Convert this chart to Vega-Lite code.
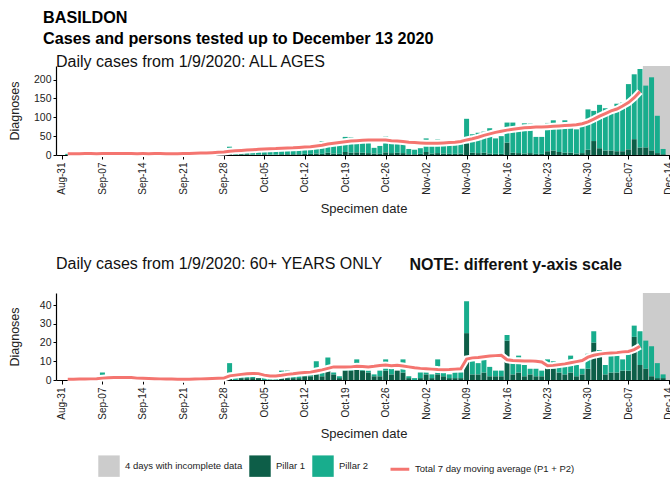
{
  "$schema": "https://vega.github.io/schema/vega-lite/v6.json",
  "background": "white",
  "padding": {"left": 8, "top": 10, "right": 0, "bottom": 0},
  "title": {
    "text": ["BASILDON", "Cases and persons tested up to December 13 2020"],
    "anchor": "start", "frame": "bounds", "dx": 35,
    "font": "Liberation Sans", "fontSize": 16.2, "fontWeight": "bold",
    "lineHeight": 20.5, "color": "#000000", "offset": 7
  },
  "datasets": {
    "inc": [{"start": "2020-12-09T12:00:00Z", "end": "2020-12-15T12:00:00Z"}],
    "all": [
      {"d":"2020-09-01","Pillar 1":0,"Pillar 2":3,"ma":3.5},
      {"d":"2020-09-02","Pillar 1":0,"Pillar 2":5,"ma":3.6},
      {"d":"2020-09-03","Pillar 1":0,"Pillar 2":2,"ma":3.6},
      {"d":"2020-09-04","Pillar 1":0,"Pillar 2":4,"ma":3.8},
      {"d":"2020-09-05","Pillar 1":0,"Pillar 2":3,"ma":3.7},
      {"d":"2020-09-06","Pillar 1":1,"Pillar 2":1,"ma":3.6},
      {"d":"2020-09-07","Pillar 1":1,"Pillar 2":5,"ma":3.8},
      {"d":"2020-09-08","Pillar 1":0,"Pillar 2":4,"ma":3.9},
      {"d":"2020-09-09","Pillar 1":0,"Pillar 2":3,"ma":3.7},
      {"d":"2020-09-10","Pillar 1":1,"Pillar 2":4,"ma":3.8},
      {"d":"2020-09-11","Pillar 1":1,"Pillar 2":3,"ma":3.9},
      {"d":"2020-09-12","Pillar 1":0,"Pillar 2":2,"ma":3.7},
      {"d":"2020-09-13","Pillar 1":0,"Pillar 2":3,"ma":3.6},
      {"d":"2020-09-14","Pillar 1":0,"Pillar 2":4,"ma":3.7},
      {"d":"2020-09-15","Pillar 1":1,"Pillar 2":2,"ma":3.6},
      {"d":"2020-09-16","Pillar 1":0,"Pillar 2":5,"ma":3.8},
      {"d":"2020-09-17","Pillar 1":0,"Pillar 2":4,"ma":3.7},
      {"d":"2020-09-18","Pillar 1":1,"Pillar 2":1,"ma":3.5},
      {"d":"2020-09-19","Pillar 1":0,"Pillar 2":3,"ma":3.6},
      {"d":"2020-09-20","Pillar 1":0,"Pillar 2":4,"ma":3.6},
      {"d":"2020-09-21","Pillar 1":0,"Pillar 2":5,"ma":4.0},
      {"d":"2020-09-22","Pillar 1":1,"Pillar 2":5,"ma":4.3},
      {"d":"2020-09-23","Pillar 1":0,"Pillar 2":4,"ma":4.6},
      {"d":"2020-09-24","Pillar 1":1,"Pillar 2":7,"ma":5.0},
      {"d":"2020-09-25","Pillar 1":0,"Pillar 2":7,"ma":5.6},
      {"d":"2020-09-26","Pillar 1":1,"Pillar 2":5,"ma":6.2},
      {"d":"2020-09-27","Pillar 1":0,"Pillar 2":9,"ma":7.0},
      {"d":"2020-09-28","Pillar 1":1,"Pillar 2":9,"ma":8.0},
      {"d":"2020-09-29","Pillar 1":4,"Pillar 2":18,"ma":9.8},
      {"d":"2020-09-30","Pillar 1":1,"Pillar 2":11,"ma":11.0},
      {"d":"2020-10-01","Pillar 1":2,"Pillar 2":12,"ma":12},
      {"d":"2020-10-02","Pillar 1":2,"Pillar 2":10,"ma":13},
      {"d":"2020-10-03","Pillar 1":1,"Pillar 2":14,"ma":14},
      {"d":"2020-10-04","Pillar 1":1,"Pillar 2":12,"ma":15},
      {"d":"2020-10-05","Pillar 1":2,"Pillar 2":16,"ma":16},
      {"d":"2020-10-06","Pillar 1":1,"Pillar 2":19,"ma":16.5},
      {"d":"2020-10-07","Pillar 1":1,"Pillar 2":16,"ma":17},
      {"d":"2020-10-08","Pillar 1":2,"Pillar 2":19,"ma":18},
      {"d":"2020-10-09","Pillar 1":2,"Pillar 2":17,"ma":18.5},
      {"d":"2020-10-10","Pillar 1":2,"Pillar 2":16,"ma":19},
      {"d":"2020-10-11","Pillar 1":2,"Pillar 2":18,"ma":20},
      {"d":"2020-10-12","Pillar 1":3,"Pillar 2":21,"ma":21},
      {"d":"2020-10-13","Pillar 1":3,"Pillar 2":23,"ma":22},
      {"d":"2020-10-14","Pillar 1":4,"Pillar 2":21,"ma":24},
      {"d":"2020-10-15","Pillar 1":3,"Pillar 2":33,"ma":26},
      {"d":"2020-10-16","Pillar 1":6,"Pillar 2":24,"ma":29},
      {"d":"2020-10-17","Pillar 1":4,"Pillar 2":29,"ma":31},
      {"d":"2020-10-18","Pillar 1":3,"Pillar 2":26,"ma":33},
      {"d":"2020-10-19","Pillar 1":8,"Pillar 2":40,"ma":35},
      {"d":"2020-10-20","Pillar 1":6,"Pillar 2":41,"ma":37},
      {"d":"2020-10-21","Pillar 1":7,"Pillar 2":27,"ma":38},
      {"d":"2020-10-22","Pillar 1":6,"Pillar 2":30,"ma":39},
      {"d":"2020-10-23","Pillar 1":5,"Pillar 2":33,"ma":39.5},
      {"d":"2020-10-24","Pillar 1":4,"Pillar 2":15,"ma":40},
      {"d":"2020-10-25","Pillar 1":3,"Pillar 2":21,"ma":40},
      {"d":"2020-10-26","Pillar 1":7,"Pillar 2":42,"ma":39.5},
      {"d":"2020-10-27","Pillar 1":5,"Pillar 2":31,"ma":38},
      {"d":"2020-10-28","Pillar 1":6,"Pillar 2":31,"ma":37},
      {"d":"2020-10-29","Pillar 1":5,"Pillar 2":31,"ma":36},
      {"d":"2020-10-30","Pillar 1":2,"Pillar 2":14,"ma":34},
      {"d":"2020-10-31","Pillar 1":2,"Pillar 2":12,"ma":33},
      {"d":"2020-11-01","Pillar 1":3,"Pillar 2":15,"ma":32},
      {"d":"2020-11-02","Pillar 1":8,"Pillar 2":36,"ma":31},
      {"d":"2020-11-03","Pillar 1":4,"Pillar 2":26,"ma":31},
      {"d":"2020-11-04","Pillar 1":5,"Pillar 2":36,"ma":31},
      {"d":"2020-11-05","Pillar 1":4,"Pillar 2":28,"ma":32},
      {"d":"2020-11-06","Pillar 1":3,"Pillar 2":30,"ma":33},
      {"d":"2020-11-07","Pillar 1":3,"Pillar 2":27,"ma":34},
      {"d":"2020-11-08","Pillar 1":4,"Pillar 2":25,"ma":36},
      {"d":"2020-11-09","Pillar 1":30,"Pillar 2":66,"ma":40},
      {"d":"2020-11-10","Pillar 1":6,"Pillar 2":49,"ma":43},
      {"d":"2020-11-11","Pillar 1":5,"Pillar 2":54,"ma":47},
      {"d":"2020-11-12","Pillar 1":6,"Pillar 2":56,"ma":52},
      {"d":"2020-11-13","Pillar 1":4,"Pillar 2":67,"ma":56},
      {"d":"2020-11-14","Pillar 1":3,"Pillar 2":41,"ma":60},
      {"d":"2020-11-15","Pillar 1":3,"Pillar 2":47,"ma":63},
      {"d":"2020-11-16","Pillar 1":33,"Pillar 2":53,"ma":66},
      {"d":"2020-11-17","Pillar 1":6,"Pillar 2":80,"ma":68},
      {"d":"2020-11-18","Pillar 1":5,"Pillar 2":59,"ma":70},
      {"d":"2020-11-19","Pillar 1":4,"Pillar 2":80,"ma":72},
      {"d":"2020-11-20","Pillar 1":5,"Pillar 2":78,"ma":73},
      {"d":"2020-11-21","Pillar 1":3,"Pillar 2":45,"ma":74},
      {"d":"2020-11-22","Pillar 1":3,"Pillar 2":45,"ma":74},
      {"d":"2020-11-23","Pillar 1":10,"Pillar 2":75,"ma":75},
      {"d":"2020-11-24","Pillar 1":12,"Pillar 2":80,"ma":76},
      {"d":"2020-11-25","Pillar 1":8,"Pillar 2":72,"ma":77},
      {"d":"2020-11-26","Pillar 1":6,"Pillar 2":86,"ma":78},
      {"d":"2020-11-27","Pillar 1":6,"Pillar 2":72,"ma":79},
      {"d":"2020-11-28","Pillar 1":4,"Pillar 2":64,"ma":80},
      {"d":"2020-11-29","Pillar 1":5,"Pillar 2":72,"ma":83},
      {"d":"2020-11-30","Pillar 1":14,"Pillar 2":107,"ma":88},
      {"d":"2020-12-01","Pillar 1":37,"Pillar 2":80,"ma":95},
      {"d":"2020-12-02","Pillar 1":18,"Pillar 2":115,"ma":103},
      {"d":"2020-12-03","Pillar 1":12,"Pillar 2":112,"ma":110},
      {"d":"2020-12-04","Pillar 1":12,"Pillar 2":105,"ma":117},
      {"d":"2020-12-05","Pillar 1":10,"Pillar 2":126,"ma":122},
      {"d":"2020-12-06","Pillar 1":10,"Pillar 2":129,"ma":130},
      {"d":"2020-12-07","Pillar 1":15,"Pillar 2":173,"ma":139},
      {"d":"2020-12-08","Pillar 1":42,"Pillar 2":172,"ma":152},
      {"d":"2020-12-09","Pillar 1":20,"Pillar 2":208,"ma":168},
      {"d":"2020-12-10","Pillar 1":20,"Pillar 2":164},
      {"d":"2020-12-11","Pillar 1":12,"Pillar 2":194},
      {"d":"2020-12-12","Pillar 1":5,"Pillar 2":99},
      {"d":"2020-12-13","Pillar 1":2,"Pillar 2":14}
    ],
    "old": [
      {"d":"2020-09-01","Pillar 1":0,"Pillar 2":0,"ma":0.4},
      {"d":"2020-09-02","Pillar 1":0,"Pillar 2":0,"ma":0.4},
      {"d":"2020-09-03","Pillar 1":0,"Pillar 2":1,"ma":0.5},
      {"d":"2020-09-04","Pillar 1":0,"Pillar 2":0,"ma":0.5},
      {"d":"2020-09-05","Pillar 1":0,"Pillar 2":0,"ma":0.6},
      {"d":"2020-09-06","Pillar 1":0,"Pillar 2":1,"ma":0.7},
      {"d":"2020-09-07","Pillar 1":0,"Pillar 2":4,"ma":1.0},
      {"d":"2020-09-08","Pillar 1":0,"Pillar 2":0,"ma":1.2},
      {"d":"2020-09-09","Pillar 1":0,"Pillar 2":1,"ma":1.3},
      {"d":"2020-09-10","Pillar 1":1,"Pillar 2":1,"ma":1.4},
      {"d":"2020-09-11","Pillar 1":0,"Pillar 2":1,"ma":1.4},
      {"d":"2020-09-12","Pillar 1":0,"Pillar 2":0,"ma":1.3},
      {"d":"2020-09-13","Pillar 1":0,"Pillar 2":0,"ma":1.0},
      {"d":"2020-09-14","Pillar 1":0,"Pillar 2":0,"ma":0.9},
      {"d":"2020-09-15","Pillar 1":0,"Pillar 2":1,"ma":0.8},
      {"d":"2020-09-16","Pillar 1":0,"Pillar 2":0,"ma":0.7},
      {"d":"2020-09-17","Pillar 1":0,"Pillar 2":0,"ma":0.6},
      {"d":"2020-09-18","Pillar 1":0,"Pillar 2":1,"ma":0.5},
      {"d":"2020-09-19","Pillar 1":0,"Pillar 2":0,"ma":0.5},
      {"d":"2020-09-20","Pillar 1":0,"Pillar 2":0,"ma":0.4},
      {"d":"2020-09-21","Pillar 1":0,"Pillar 2":0,"ma":0.4},
      {"d":"2020-09-22","Pillar 1":0,"Pillar 2":1,"ma":0.4},
      {"d":"2020-09-23","Pillar 1":0,"Pillar 2":0,"ma":0.5},
      {"d":"2020-09-24","Pillar 1":0,"Pillar 2":1,"ma":0.6},
      {"d":"2020-09-25","Pillar 1":0,"Pillar 2":0,"ma":0.7},
      {"d":"2020-09-26","Pillar 1":0,"Pillar 2":1,"ma":0.8},
      {"d":"2020-09-27","Pillar 1":0,"Pillar 2":0,"ma":0.9},
      {"d":"2020-09-28","Pillar 1":0,"Pillar 2":1,"ma":1.0},
      {"d":"2020-09-29","Pillar 1":4,"Pillar 2":5,"ma":2.2},
      {"d":"2020-09-30","Pillar 1":0,"Pillar 2":1,"ma":2.6},
      {"d":"2020-10-01","Pillar 1":1,"Pillar 2":3,"ma":3.0},
      {"d":"2020-10-02","Pillar 1":1,"Pillar 2":2,"ma":3.3},
      {"d":"2020-10-03","Pillar 1":1,"Pillar 2":1,"ma":3.5},
      {"d":"2020-10-04","Pillar 1":1,"Pillar 2":0,"ma":3.4},
      {"d":"2020-10-05","Pillar 1":0,"Pillar 2":2,"ma":2.6},
      {"d":"2020-10-06","Pillar 1":0,"Pillar 2":1,"ma":2.2},
      {"d":"2020-10-07","Pillar 1":0,"Pillar 2":1,"ma":2.2},
      {"d":"2020-10-08","Pillar 1":1,"Pillar 2":4,"ma":2.5},
      {"d":"2020-10-09","Pillar 1":1,"Pillar 2":4,"ma":3.0},
      {"d":"2020-10-10","Pillar 1":1,"Pillar 2":2,"ma":3.3},
      {"d":"2020-10-11","Pillar 1":1,"Pillar 2":1,"ma":3.7},
      {"d":"2020-10-12","Pillar 1":2,"Pillar 2":1,"ma":4.0},
      {"d":"2020-10-13","Pillar 1":2,"Pillar 2":1,"ma":4.2},
      {"d":"2020-10-14","Pillar 1":3,"Pillar 2":7,"ma":4.8},
      {"d":"2020-10-15","Pillar 1":2,"Pillar 2":2,"ma":5.4},
      {"d":"2020-10-16","Pillar 1":5,"Pillar 2":7,"ma":6.2},
      {"d":"2020-10-17","Pillar 1":3,"Pillar 2":1,"ma":7.0},
      {"d":"2020-10-18","Pillar 1":1,"Pillar 2":1,"ma":7.0},
      {"d":"2020-10-19","Pillar 1":5,"Pillar 2":3,"ma":6.9},
      {"d":"2020-10-20","Pillar 1":5,"Pillar 2":1,"ma":7.0},
      {"d":"2020-10-21","Pillar 1":6,"Pillar 2":5,"ma":7.3},
      {"d":"2020-10-22","Pillar 1":5,"Pillar 2":1,"ma":7.2},
      {"d":"2020-10-23","Pillar 1":4,"Pillar 2":1,"ma":7.0},
      {"d":"2020-10-24","Pillar 1":2,"Pillar 2":1,"ma":7.3},
      {"d":"2020-10-25","Pillar 1":2,"Pillar 2":3,"ma":7.7},
      {"d":"2020-10-26","Pillar 1":5,"Pillar 2":6,"ma":8.0},
      {"d":"2020-10-27","Pillar 1":3,"Pillar 2":3,"ma":7.6},
      {"d":"2020-10-28","Pillar 1":5,"Pillar 2":0,"ma":7.8},
      {"d":"2020-10-29","Pillar 1":4,"Pillar 2":7,"ma":7.5},
      {"d":"2020-10-30","Pillar 1":1,"Pillar 2":1,"ma":7.0},
      {"d":"2020-10-31","Pillar 1":0,"Pillar 2":1,"ma":6.5},
      {"d":"2020-11-01","Pillar 1":1,"Pillar 2":3,"ma":6.2},
      {"d":"2020-11-02","Pillar 1":3,"Pillar 2":1,"ma":6.0},
      {"d":"2020-11-03","Pillar 1":1,"Pillar 2":2,"ma":5.8},
      {"d":"2020-11-04","Pillar 1":3,"Pillar 2":8,"ma":5.6},
      {"d":"2020-11-05","Pillar 1":2,"Pillar 2":4,"ma":5.5},
      {"d":"2020-11-06","Pillar 1":1,"Pillar 2":2,"ma":5.6},
      {"d":"2020-11-07","Pillar 1":1,"Pillar 2":3,"ma":5.8},
      {"d":"2020-11-08","Pillar 1":1,"Pillar 2":3,"ma":6.0},
      {"d":"2020-11-09","Pillar 1":25,"Pillar 2":17,"ma":11.2},
      {"d":"2020-11-10","Pillar 1":3,"Pillar 2":7,"ma":11.8},
      {"d":"2020-11-11","Pillar 1":3,"Pillar 2":6,"ma":12.0},
      {"d":"2020-11-12","Pillar 1":4,"Pillar 2":7,"ma":12.4},
      {"d":"2020-11-13","Pillar 1":2,"Pillar 2":5,"ma":12.8},
      {"d":"2020-11-14","Pillar 1":2,"Pillar 2":3,"ma":13.0},
      {"d":"2020-11-15","Pillar 1":2,"Pillar 2":3,"ma":13.2},
      {"d":"2020-11-16","Pillar 1":21,"Pillar 2":3,"ma":10.8},
      {"d":"2020-11-17","Pillar 1":3,"Pillar 2":6,"ma":10.4},
      {"d":"2020-11-18","Pillar 1":4,"Pillar 2":9,"ma":10.3},
      {"d":"2020-11-19","Pillar 1":2,"Pillar 2":6,"ma":10.2},
      {"d":"2020-11-20","Pillar 1":3,"Pillar 2":3,"ma":10.2},
      {"d":"2020-11-21","Pillar 1":2,"Pillar 2":4,"ma":10.0},
      {"d":"2020-11-22","Pillar 1":2,"Pillar 2":3,"ma":9.6},
      {"d":"2020-11-23","Pillar 1":6,"Pillar 2":5,"ma":7.6},
      {"d":"2020-11-24","Pillar 1":6,"Pillar 2":4,"ma":7.8},
      {"d":"2020-11-25","Pillar 1":4,"Pillar 2":3,"ma":8.2},
      {"d":"2020-11-26","Pillar 1":3,"Pillar 2":6,"ma":8.6},
      {"d":"2020-11-27","Pillar 1":4,"Pillar 2":9,"ma":9.2},
      {"d":"2020-11-28","Pillar 1":2,"Pillar 2":6,"ma":9.8},
      {"d":"2020-11-29","Pillar 1":3,"Pillar 2":3,"ma":10.4},
      {"d":"2020-11-30","Pillar 1":6,"Pillar 2":8,"ma":12.2},
      {"d":"2020-12-01","Pillar 1":20,"Pillar 2":6,"ma":13.2},
      {"d":"2020-12-02","Pillar 1":14,"Pillar 2":2,"ma":13.8},
      {"d":"2020-12-03","Pillar 1":3,"Pillar 2":5,"ma":14.2},
      {"d":"2020-12-04","Pillar 1":4,"Pillar 2":9,"ma":14.4},
      {"d":"2020-12-05","Pillar 1":4,"Pillar 2":9,"ma":14.6},
      {"d":"2020-12-06","Pillar 1":5,"Pillar 2":6,"ma":15.0},
      {"d":"2020-12-07","Pillar 1":5,"Pillar 2":10,"ma":15.2},
      {"d":"2020-12-08","Pillar 1":23,"Pillar 2":6,"ma":16.2},
      {"d":"2020-12-09","Pillar 1":8,"Pillar 2":18,"ma":18.0},
      {"d":"2020-12-10","Pillar 1":6,"Pillar 2":15},
      {"d":"2020-12-11","Pillar 1":2,"Pillar 2":16},
      {"d":"2020-12-12","Pillar 1":1,"Pillar 2":8},
      {"d":"2020-12-13","Pillar 1":1,"Pillar 2":2}
    ]
  },
  "spacing": 40,
  "resolve": {"scale": {"color": "independent", "x": "independent", "y": "independent"}, "legend": {"color": "independent"}},
  "vconcat": [
    {
      "width": 625, "height": 89,
      "title": {"text": "Daily cases from 1/9/2020: ALL AGES", "anchor": "start", "frame": "group", "fontSize": 16, "fontWeight": "normal", "font": "Liberation Sans", "color": "#111111", "offset": -4},
      "layer": [
        {
          "data": {"name": "inc"},
          "mark": {"type": "rect", "clip": true},
          "encoding": {
            "x": {"field": "start", "type": "temporal",
              "scale": {"type": "utc", "domain": ["2020-08-30T20:00:00Z", "2020-12-15T05:30:00Z"]},
              "axis": {"title": "Specimen date", "values": [
                {"year":2020,"month":8,"date":31,"utc":true},{"year":2020,"month":9,"date":7,"utc":true},{"year":2020,"month":9,"date":14,"utc":true},{"year":2020,"month":9,"date":21,"utc":true},{"year":2020,"month":9,"date":28,"utc":true},{"year":2020,"month":10,"date":5,"utc":true},{"year":2020,"month":10,"date":12,"utc":true},{"year":2020,"month":10,"date":19,"utc":true},{"year":2020,"month":10,"date":26,"utc":true},{"year":2020,"month":11,"date":2,"utc":true},{"year":2020,"month":11,"date":9,"utc":true},{"year":2020,"month":11,"date":16,"utc":true},{"year":2020,"month":11,"date":23,"utc":true},{"year":2020,"month":11,"date":30,"utc":true},{"year":2020,"month":12,"date":7,"utc":true},{"year":2020,"month":12,"date":14,"utc":true}],
                "labelExpr": "utcFormat(datum.value, '%b-%d')", "labelAngle": 270, "labelFontSize": 10, "tickSize": 4, "labelPadding": 3, "titleFontSize": 13, "titlePadding": 8, "labelOverlap": false, "labelFlush": false, "titleX": 307.5}},
            "x2": {"field": "end"},
            "color": {"datum": "4 days with incomplete data", "scale": {"domain": ["4 days with incomplete data", "Pillar 1", "Pillar 2", "Total 7 day moving average (P1 + P2)"], "range": ["#cccccc", "#0d5e48", "#18ad8d", "#f47570"]}, "legend": null}
          }
        },
        {
          "data": {"name": "all"},
          "transform": [{"fold": ["Pillar 1", "Pillar 2"], "as": ["key", "n"]}],
          "mark": {"type": "bar", "width": 5},
          "encoding": {
            "x": {"field": "d", "type": "temporal", "axis": {"title": "Specimen date", "values": [
                {"year":2020,"month":8,"date":31,"utc":true},{"year":2020,"month":9,"date":7,"utc":true},{"year":2020,"month":9,"date":14,"utc":true},{"year":2020,"month":9,"date":21,"utc":true},{"year":2020,"month":9,"date":28,"utc":true},{"year":2020,"month":10,"date":5,"utc":true},{"year":2020,"month":10,"date":12,"utc":true},{"year":2020,"month":10,"date":19,"utc":true},{"year":2020,"month":10,"date":26,"utc":true},{"year":2020,"month":11,"date":2,"utc":true},{"year":2020,"month":11,"date":9,"utc":true},{"year":2020,"month":11,"date":16,"utc":true},{"year":2020,"month":11,"date":23,"utc":true},{"year":2020,"month":11,"date":30,"utc":true},{"year":2020,"month":12,"date":7,"utc":true},{"year":2020,"month":12,"date":14,"utc":true}],
                "labelExpr": "utcFormat(datum.value, '%b-%d')", "labelAngle": 270, "labelFontSize": 10, "tickSize": 4, "labelPadding": 3, "titleFontSize": 13, "titlePadding": 8, "labelOverlap": false, "labelFlush": false, "titleX": 307.5}},
            "y": {"field": "n", "type": "quantitative", "stack": "zero", "scale": {"domain": [0, 236], "nice": false},
              "axis": {"title": "Diagnoses", "values": [0, 50, 100, 150, 200], "tickSize": 3, "labelPadding": 2, "labelFontSize": 10.5, "titleFontSize": 12.5, "titlePadding": 12, "minExtent": 23, "maxExtent": 23, "labelOverlap": false}},
            "color": {"field": "key", "type": "nominal", "legend": null},
            "order": {"field": "key", "sort": "ascending"}
          }
        },
        {
          "data": {"name": "all"},
          "transform": [{"filter": "isValid(datum.ma)"}],
          "mark": {"type": "line", "color": "white", "strokeWidth": 7},
          "encoding": {
            "x": {"field": "d", "type": "temporal", "axis": {"title": "Specimen date", "values": [
                {"year":2020,"month":8,"date":31,"utc":true},{"year":2020,"month":9,"date":7,"utc":true},{"year":2020,"month":9,"date":14,"utc":true},{"year":2020,"month":9,"date":21,"utc":true},{"year":2020,"month":9,"date":28,"utc":true},{"year":2020,"month":10,"date":5,"utc":true},{"year":2020,"month":10,"date":12,"utc":true},{"year":2020,"month":10,"date":19,"utc":true},{"year":2020,"month":10,"date":26,"utc":true},{"year":2020,"month":11,"date":2,"utc":true},{"year":2020,"month":11,"date":9,"utc":true},{"year":2020,"month":11,"date":16,"utc":true},{"year":2020,"month":11,"date":23,"utc":true},{"year":2020,"month":11,"date":30,"utc":true},{"year":2020,"month":12,"date":7,"utc":true},{"year":2020,"month":12,"date":14,"utc":true}],
                "labelExpr": "utcFormat(datum.value, '%b-%d')", "labelAngle": 270, "labelFontSize": 10, "tickSize": 4, "labelPadding": 3, "titleFontSize": 13, "titlePadding": 8, "labelOverlap": false, "labelFlush": false, "titleX": 307.5}},
            "y": {"field": "ma", "type": "quantitative",
              "axis": {"title": "Diagnoses", "values": [0, 50, 100, 150, 200], "tickSize": 3, "labelPadding": 2, "labelFontSize": 10.5, "titleFontSize": 12.5, "titlePadding": 12, "minExtent": 23, "maxExtent": 23, "labelOverlap": false}}}
        },
        {
          "data": {"name": "all"},
          "transform": [{"filter": "isValid(datum.ma)"}],
          "mark": {"type": "line", "strokeWidth": 3},
          "encoding": {
            "x": {"field": "d", "type": "temporal", "axis": {"title": "Specimen date", "values": [
                {"year":2020,"month":8,"date":31,"utc":true},{"year":2020,"month":9,"date":7,"utc":true},{"year":2020,"month":9,"date":14,"utc":true},{"year":2020,"month":9,"date":21,"utc":true},{"year":2020,"month":9,"date":28,"utc":true},{"year":2020,"month":10,"date":5,"utc":true},{"year":2020,"month":10,"date":12,"utc":true},{"year":2020,"month":10,"date":19,"utc":true},{"year":2020,"month":10,"date":26,"utc":true},{"year":2020,"month":11,"date":2,"utc":true},{"year":2020,"month":11,"date":9,"utc":true},{"year":2020,"month":11,"date":16,"utc":true},{"year":2020,"month":11,"date":23,"utc":true},{"year":2020,"month":11,"date":30,"utc":true},{"year":2020,"month":12,"date":7,"utc":true},{"year":2020,"month":12,"date":14,"utc":true}],
                "labelExpr": "utcFormat(datum.value, '%b-%d')", "labelAngle": 270, "labelFontSize": 10, "tickSize": 4, "labelPadding": 3, "titleFontSize": 13, "titlePadding": 8, "labelOverlap": false, "labelFlush": false, "titleX": 307.5}},
            "y": {"field": "ma", "type": "quantitative",
              "axis": {"title": "Diagnoses", "values": [0, 50, 100, 150, 200], "tickSize": 3, "labelPadding": 2, "labelFontSize": 10.5, "titleFontSize": 12.5, "titlePadding": 12, "minExtent": 23, "maxExtent": 23, "labelOverlap": false}},
            "color": {"datum": "Total 7 day moving average (P1 + P2)", "legend": null}}
        }
      ]
    },
    {
      "width": 625, "height": 87,
      "title": {"text": "Daily cases from 1/9/2020: 60+ YEARS ONLY", "anchor": "start", "frame": "group", "fontSize": 16, "fontWeight": "normal", "font": "Liberation Sans", "color": "#111111", "baseline": "alphabetic", "offset": -29},
      "resolve": {"axis": {"x": "independent"}},
      "layer": [
        {
          "data": {"name": "inc"},
          "mark": {"type": "rect", "clip": true},
          "encoding": {
            "x": {"field": "start", "type": "temporal",
              "scale": {"type": "utc", "domain": ["2020-08-30T20:00:00Z", "2020-12-15T05:30:00Z"]},
              "axis": {"orient": "top", "title": "NOTE: different y-axis scale", "labels": false, "ticks": false, "domain": false, "titleFontWeight": "bold", "titleFontSize": 16, "titleColor": "#111111", "titleAnchor": "start", "titleAlign": "left", "titleBaseline": "alphabetic", "titleX": 353, "titleY": -24}},
            "x2": {"field": "end"},
            "color": {"datum": "4 days with incomplete data", "scale": {"domain": ["4 days with incomplete data", "Pillar 1", "Pillar 2", "Total 7 day moving average (P1 + P2)"], "range": ["#cccccc", "#0d5e48", "#18ad8d", "#f47570"]},
              "legend": {"title": null, "orient": "none", "legendX": 42, "legendY": 162, "direction": "horizontal", "symbolSize": 460, "labelFontSize": 9.5, "labelFont": "Liberation Sans", "labelColor": "#222222", "labelOffset": 5, "columnPadding": 6, "padding": 0, "symbolStrokeWidth": 0,
                "encode": {"symbols": {"update": {
                  "shape": {"signal": "datum.value === 'Total 7 day moving average (P1 + P2)' ? 'M0.42,-0.14H2.17V0.14H0.42Z' : 'square'"},
                  "fill": {"signal": "datum.value === 'Pillar 1' ? '#0d5e48' : datum.value === 'Pillar 2' ? '#18ad8d' : datum.value === 'Total 7 day moving average (P1 + P2)' ? '#f47570' : '#cccccc'"},
                  "stroke": {"value": "transparent"}, "opacity": {"value": 1}, "fillOpacity": {"value": 1}}},
                  "labels": {"update": {"dx": {"signal": "datum.value === 'Total 7 day moving average (P1 + P2)' ? 13 : 0"}}}}}}
          }
        },
        {
          "data": {"name": "old"},
          "transform": [{"fold": ["Pillar 1", "Pillar 2"], "as": ["key", "n"]}],
          "mark": {"type": "bar", "width": 5},
          "encoding": {
            "x": {"field": "d", "type": "temporal",
              "axis": {"orient": "bottom", "title": "Specimen date", "values": [
                {"year":2020,"month":8,"date":31,"utc":true},{"year":2020,"month":9,"date":7,"utc":true},{"year":2020,"month":9,"date":14,"utc":true},{"year":2020,"month":9,"date":21,"utc":true},{"year":2020,"month":9,"date":28,"utc":true},{"year":2020,"month":10,"date":5,"utc":true},{"year":2020,"month":10,"date":12,"utc":true},{"year":2020,"month":10,"date":19,"utc":true},{"year":2020,"month":10,"date":26,"utc":true},{"year":2020,"month":11,"date":2,"utc":true},{"year":2020,"month":11,"date":9,"utc":true},{"year":2020,"month":11,"date":16,"utc":true},{"year":2020,"month":11,"date":23,"utc":true},{"year":2020,"month":11,"date":30,"utc":true},{"year":2020,"month":12,"date":7,"utc":true},{"year":2020,"month":12,"date":14,"utc":true}],
                "labelExpr": "utcFormat(datum.value, '%b-%d')", "labelAngle": 270, "labelFontSize": 10, "tickSize": 4, "labelPadding": 3, "titleFontSize": 13, "titlePadding": 8, "labelOverlap": false, "labelFlush": false, "titleX": 307.5}},
            "y": {"field": "n", "type": "quantitative", "stack": "zero", "scale": {"domain": [0, 46.4], "nice": false},
              "axis": {"title": "Diagnoses", "values": [0, 10, 20, 30, 40], "tickSize": 3, "labelPadding": 2, "labelFontSize": 10.5, "titleFontSize": 12.5, "titlePadding": 12, "minExtent": 23, "maxExtent": 23, "labelOverlap": false}},
            "color": {"field": "key", "type": "nominal",
              "legend": {"title": null, "orient": "none", "legendX": 42, "legendY": 162, "direction": "horizontal", "symbolSize": 460, "labelFontSize": 9.5, "labelFont": "Liberation Sans", "labelColor": "#222222", "labelOffset": 5, "columnPadding": 6, "padding": 0, "symbolStrokeWidth": 0,
                "encode": {"symbols": {"update": {
                  "shape": {"signal": "datum.value === 'Total 7 day moving average (P1 + P2)' ? 'M0.42,-0.14H2.17V0.14H0.42Z' : 'square'"},
                  "fill": {"signal": "datum.value === 'Pillar 1' ? '#0d5e48' : datum.value === 'Pillar 2' ? '#18ad8d' : datum.value === 'Total 7 day moving average (P1 + P2)' ? '#f47570' : '#cccccc'"},
                  "stroke": {"value": "transparent"}, "opacity": {"value": 1}, "fillOpacity": {"value": 1}}},
                  "labels": {"update": {"dx": {"signal": "datum.value === 'Total 7 day moving average (P1 + P2)' ? 13 : 0"}}}}}},
            "order": {"field": "key", "sort": "ascending"}
          }
        },
        {
          "data": {"name": "old"},
          "transform": [{"filter": "isValid(datum.ma)"}],
          "mark": {"type": "line", "color": "white", "strokeWidth": 7},
          "encoding": {"x": {"field": "d", "type": "temporal", "axis": null},
            "y": {"field": "ma", "type": "quantitative",
              "axis": {"title": "Diagnoses", "values": [0, 10, 20, 30, 40], "tickSize": 3, "labelPadding": 2, "labelFontSize": 10.5, "titleFontSize": 12.5, "titlePadding": 12, "minExtent": 23, "maxExtent": 23, "labelOverlap": false}}}
        },
        {
          "data": {"name": "old"},
          "transform": [{"filter": "isValid(datum.ma)"}],
          "mark": {"type": "line", "strokeWidth": 3},
          "encoding": {"x": {"field": "d", "type": "temporal", "axis": null},
            "y": {"field": "ma", "type": "quantitative",
              "axis": {"title": "Diagnoses", "values": [0, 10, 20, 30, 40], "tickSize": 3, "labelPadding": 2, "labelFontSize": 10.5, "titleFontSize": 12.5, "titlePadding": 12, "minExtent": 23, "maxExtent": 23, "labelOverlap": false}},
            "color": {"datum": "Total 7 day moving average (P1 + P2)",
              "legend": {"title": null, "orient": "none", "legendX": 42, "legendY": 162, "direction": "horizontal", "symbolSize": 460, "labelFontSize": 9.5, "labelFont": "Liberation Sans", "labelColor": "#222222", "labelOffset": 5, "columnPadding": 6, "padding": 0, "symbolStrokeWidth": 0,
                "encode": {"symbols": {"update": {
                  "shape": {"signal": "datum.value === 'Total 7 day moving average (P1 + P2)' ? 'M0.42,-0.14H2.17V0.14H0.42Z' : 'square'"},
                  "fill": {"signal": "datum.value === 'Pillar 1' ? '#0d5e48' : datum.value === 'Pillar 2' ? '#18ad8d' : datum.value === 'Total 7 day moving average (P1 + P2)' ? '#f47570' : '#cccccc'"},
                  "stroke": {"value": "transparent"}, "opacity": {"value": 1}, "fillOpacity": {"value": 1}}},
                  "labels": {"update": {"dx": {"signal": "datum.value === 'Total 7 day moving average (P1 + P2)' ? 13 : 0"}}}}}}}
        }
      ]
    }
  ],
  "config": {
    "font": "Liberation Sans",
    "view": {"stroke": null},
    "axis": {"grid": false, "domainColor": "#000000", "tickColor": "#000000", "labelColor": "#222222", "titleColor": "#222222", "labelFont": "Liberation Sans", "titleFont": "Liberation Sans", "titleFontWeight": "normal", "domainWidth": 1.2}
  }
}
